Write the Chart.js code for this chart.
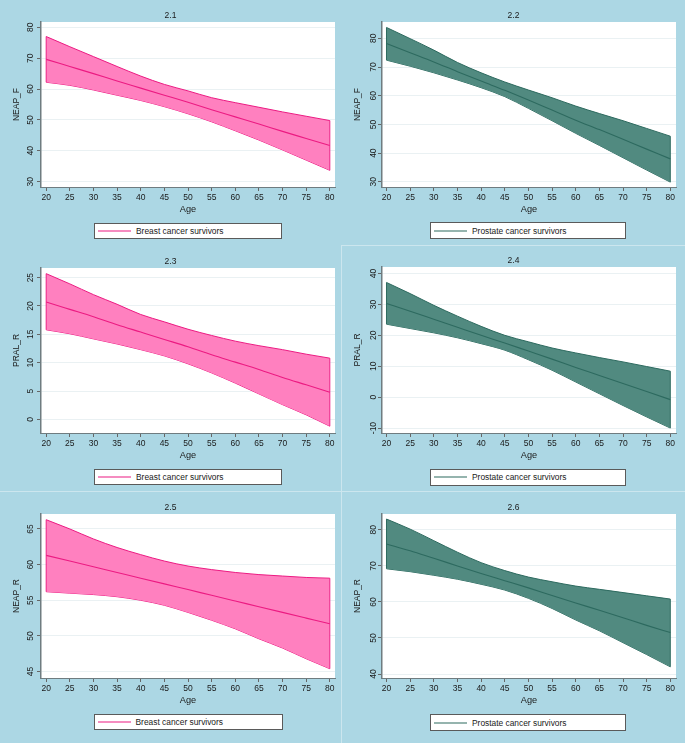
<!DOCTYPE html>
<html><head><meta charset="utf-8">
<script src="https://cdn.jsdelivr.net/npm/chart.js@4.4.1/dist/chart.umd.min.js"></script>
<style>
html,body{margin:0;padding:0;}
body{background:#acd7e4;width:685px;height:743px;position:relative;overflow:hidden;font-family:"Liberation Sans",Arial,sans-serif;}
.cv{position:absolute;}
.ptitle{position:absolute;font-size:8.5px;color:#1a1a1a;transform:translate(-50%,-50%);white-space:nowrap;line-height:1;}
.legend{position:absolute;background:#fff;border:1px solid #5a5a5a;box-sizing:border-box;}
.legend .sw{position:absolute;left:3px;width:33px;top:50%;height:0;border-top:1.3px solid;transform:translateY(-50%);}
.legend .tx{position:absolute;left:41px;top:50%;font-size:8.4px;color:#1a1a1a;white-space:nowrap;transform:translateY(-50%);line-height:1;}
.sep{position:absolute;background:#cce6ee;}
</style></head><body>
<script>
// ---------- data ----------
const ageValues = [20,25,30,35,40,45,50,55,60,65,70,75,80];
const ageTicks  = [20,25,30,35,40,45,50,55,60,65,70,75,80];

// 2.1 NEAP_F, breast cancer survivors
const breastNeapFFit  = [69.6,67.3,65.0,62.6,60.3,58.0,55.7,53.3,51.0,48.7,46.3,44.0,41.7];
const breastNeapFHigh = [77.0,73.7,70.5,67.3,64.2,61.5,59.4,57.2,55.6,54.1,52.6,51.2,49.8];
const breastNeapFLow  = [62.2,61.2,59.7,58.0,56.3,54.3,52.0,49.4,46.5,43.5,40.3,37.0,33.7];
const breastNeapFTicks = [30,40,50,60,70,80];

// 2.2 NEAP_F, prostate cancer survivors
const prostateNeapFFit  = [78.2,75.0,71.8,68.4,65.1,61.9,58.5,55.0,51.5,48.2,44.8,41.4,38.0];
const prostateNeapFHigh = [83.8,79.9,75.9,71.6,68.0,64.8,62.0,59.3,56.4,53.8,51.3,48.6,45.9];
const prostateNeapFLow  = [72.4,70.3,68.0,65.5,62.8,59.7,55.6,51.3,46.9,42.7,38.4,34.1,29.9];
const prostateNeapFTicks = [30,40,50,60,70,80];

// 2.3 PRAL_R, breast cancer survivors
const breastPralFit  = [20.7,19.4,18.1,16.7,15.4,14.1,12.8,11.4,10.1,8.8,7.4,6.1,4.8];
const breastPralHigh = [25.7,23.9,22.0,20.3,18.5,17.2,15.9,14.8,13.8,13.0,12.3,11.5,10.8];
const breastPralLow  = [15.8,15.1,14.2,13.3,12.3,11.2,9.8,8.2,6.4,4.5,2.6,0.8,-1.2];
const breastPralTicks = [0,5,10,15,20,25];

// 2.4 PRAL_R, prostate cancer survivors
const prostatePralFit  = [30.3,27.8,25.2,22.6,20.0,17.5,14.9,12.3,9.6,7.0,4.4,1.8,-0.8];
const prostatePralHigh = [37.1,33.5,29.7,26.2,22.9,20.0,17.9,15.9,14.3,12.8,11.4,9.9,8.4];
const prostatePralLow  = [23.6,22.2,20.8,19.2,17.3,15.2,12.1,8.7,4.9,1.1,-2.7,-6.4,-10.0];
const prostatePralTicks = [-10,0,10,20,30,40];

// 2.5 NEAP_R, breast cancer survivors
const breastNeapRFit  = [61.3,60.5,59.7,58.9,58.1,57.3,56.5,55.7,54.9,54.1,53.3,52.5,51.7];
const breastNeapRHigh = [66.3,65.0,63.6,62.4,61.4,60.5,59.8,59.3,58.9,58.6,58.4,58.2,58.1];
const breastNeapRLow  = [56.2,56.0,55.8,55.5,55.0,54.3,53.3,52.2,51.0,49.6,48.3,46.8,45.4];
const breastNeapRTicks = [45,50,55,60,65];

// 2.6 NEAP_R, prostate cancer survivors
const prostateNeapRFit  = [76.1,74.2,72.1,70.0,67.9,65.9,63.9,61.8,59.7,57.7,55.6,53.5,51.5];
const prostateNeapRHigh = [83.0,80.2,77.0,73.8,70.9,68.7,66.9,65.6,64.4,63.5,62.6,61.7,60.8];
const prostateNeapRLow  = [69.2,68.4,67.4,66.3,64.9,63.3,61.0,58.2,55.0,52.0,48.7,45.4,42.0];
const prostateNeapRTicks = [40,50,60,70,80];

const panelTitles = ['2.1','2.2','2.3','2.4','2.5','2.6'];
const yTitles = ['NEAP_F','NEAP_F','PRAL_R','PRAL_R','NEAP_R','NEAP_R'];
const xTitle = 'Age';
const legendLabels = ['Breast cancer survivors','Prostate cancer survivors'];

// ---------- styling / layout ----------
const FONT = '"Liberation Sans", Arial, sans-serif';
const pinkFill = '#ff80bf', pinkLine = '#ec1a82';
const tealFill = '#518a80', tealLine = '#2d6a5f';

const panels = [
  {canvas:{x:0,y:0,w:341,h:245},   plot:{l:41,r:335,t:22,b:187},  xr:[18.9,81.1], yr:[28.3,81.7], fit:breastNeapFFit, hi:breastNeapFHigh, lo:breastNeapFLow, ticks:breastNeapFTicks, pink:true, gap:10, tpad:12, leg:{x:94,y:222.5,w:188,h:16}},
  {canvas:{x:342,y:0,w:343,h:245}, plot:{l:382,r:676,t:22,b:187}, xr:[19.05,81.2], yr:[28.2,85.7], fit:prostateNeapFFit, hi:prostateNeapFHigh, lo:prostateNeapFLow, ticks:prostateNeapFTicks, pink:false, gap:8.7, tpad:10.5, leg:{x:430,y:222,w:196,h:17}},
  {canvas:{x:0,y:246,w:341,h:245}, plot:{l:41,r:335,t:268,b:433}, xr:[18.9,81.1], yr:[-2.4,26.7], fit:breastPralFit, hi:breastPralHigh, lo:breastPralLow, ticks:breastPralTicks, pink:true, gap:10, tpad:12, leg:{x:94,y:469,w:188,h:16}},
  {canvas:{x:342,y:246,w:343,h:245}, plot:{l:382,r:676,t:267,b:433}, xr:[19.05,81.2], yr:[-11.6,42.1], fit:prostatePralFit, hi:prostatePralHigh, lo:prostatePralLow, ticks:prostatePralTicks, pink:false, gap:8.7, tpad:10.5, leg:{x:430,y:469,w:196,h:16.5}},
  {canvas:{x:0,y:492,w:341,h:251}, plot:{l:41,r:335,t:514,b:678}, xr:[18.9,81.1], yr:[44.1,67.1], fit:breastNeapRFit, hi:breastNeapRHigh, lo:breastNeapRLow, ticks:breastNeapRTicks, pink:true, gap:10, tpad:12, leg:{x:93.5,y:714,w:189,h:16}},
  {canvas:{x:342,y:492,w:343,h:251}, plot:{l:382,r:676,t:514,b:678}, xr:[19.05,81.2], yr:[38.9,84.4], fit:prostateNeapRFit, hi:prostateNeapRHigh, lo:prostateNeapRLow, ticks:prostateNeapRTicks, pink:false, gap:8.7, tpad:10.5, leg:{x:430,y:714,w:196,h:17}}
];

const XH = 30, TICK = 4, TICKFONT = 8.5;

// separators
function sep(x,y,w,h){const d=document.createElement('div');d.className='sep';Object.assign(d.style,{left:x+'px',top:y+'px',width:w+'px',height:h+'px'});document.body.appendChild(d);}
sep(341,246,1,497); sep(341,245,344,1); sep(0,491,685,1);

const plotBg = {id:'plotBg', beforeDraw(chart){const {ctx,chartArea:a}=chart;ctx.save();ctx.fillStyle='#ffffff';ctx.fillRect(a.left,a.top,a.right-a.left,a.bottom-a.top);ctx.restore();}};

const measureCtx = document.createElement('canvas').getContext('2d');
function widest(labels){measureCtx.font = `normal ${TICKFONT}px ${FONT}`;return Math.max(...labels.map(s=>measureCtx.measureText(s).width));}

panels.forEach((p,i)=>{
  const cv=document.createElement('canvas');
  cv.className='cv';cv.width=p.canvas.w;cv.height=p.canvas.h;
  cv.style.left=p.canvas.x+'px';cv.style.top=p.canvas.y+'px';
  cv.style.width=p.canvas.w+'px';cv.style.height=p.canvas.h+'px';
  document.body.appendChild(cv);

  const fill = p.pink?pinkFill:tealFill, line = p.pink?pinkLine:tealLine;
  const yAxisW = p.plot.l - p.canvas.x;
  const padTop = p.plot.t - p.canvas.y;
  const padRight = p.canvas.x + p.canvas.w - p.plot.r;
  const padBottom = p.canvas.y + p.canvas.h - p.plot.b - XH;
  const yLabels = p.ticks.map(String);
  const ypad = p.gap - TICK - widest(yLabels)/2;
  const pts = arr => ageValues.map((a,k)=>({x:a,y:arr[k]}));
  const n = ageValues.length - 1;
  const leftEdge  = [{x:ageValues[0],y:p.lo[0]},{x:ageValues[0],y:p.hi[0]}];
  const rightEdge = [{x:ageValues[n],y:p.lo[n]},{x:ageValues[n],y:p.hi[n]}];
  const common = {pointRadius:0,borderColor:line,fill:false};

  new Chart(cv,{
    type:'line',
    data:{datasets:[
      {...common,data:pts(p.fit),borderWidth:1.1,cubicInterpolationMode:'monotone',order:0},
      {...common,data:leftEdge,borderWidth:1,order:1},
      {...common,data:rightEdge,borderWidth:1,order:2},
      {...common,data:pts(p.hi),borderWidth:1,backgroundColor:fill,fill:'+1',cubicInterpolationMode:'monotone',order:3},
      {...common,data:pts(p.lo),borderWidth:1,cubicInterpolationMode:'monotone',order:4}
    ]},
    plugins:[plotBg],
    options:{
      responsive:false,animation:false,devicePixelRatio:1,
      layout:{padding:{left:0,top:padTop,right:padRight,bottom:padBottom}},
      plugins:{legend:{display:false},tooltip:{enabled:false},title:{display:false}},
      scales:{
        x:{type:'linear',min:p.xr[0],max:p.xr[1],
          afterBuildTicks:s=>{s.ticks=ageTicks.map(v=>({value:v}));},
          afterFit:s=>{s.height=XH;},
          grid:{drawOnChartArea:false,drawTicks:true,tickLength:TICK,tickColor:'#666',tickWidth:1},
          border:{display:true,color:'#6f7c80',width:1},
          ticks:{autoSkip:false,maxRotation:0,minRotation:0,padding:1.5,color:'#1a1a1a',font:{family:FONT,size:TICKFONT},callback:v=>String(v)},
          title:{display:true,text:xTitle,color:'#1a1a1a',font:{family:FONT,size:9.2},padding:{top:0,bottom:2}}
        },
        y:{type:'linear',min:p.yr[0],max:p.yr[1],
          afterBuildTicks:s=>{s.ticks=p.ticks.map(v=>({value:v}));},
          afterFit:s=>{s.width=yAxisW;},
          grid:{drawOnChartArea:true,color:'#eaf1f3',lineWidth:1,drawTicks:true,tickLength:TICK,tickColor:'#666',tickWidth:1},
          border:{display:true,color:'#6f7c80',width:1.5},
          ticks:{autoSkip:false,minRotation:90,maxRotation:90,crossAlign:'center',padding:ypad,color:'#1a1a1a',font:{family:FONT,size:TICKFONT},callback:v=>String(v)},
          title:{display:true,text:yTitles[i],color:'#1a1a1a',font:{family:FONT,size:8.5},padding:{top:p.tpad,bottom:0}}
        }
      }
    }
  });

  // panel title, centered on panel
  const t=document.createElement('div');t.className='ptitle';t.textContent=panelTitles[i];
  t.style.left=(p.canvas.x+p.canvas.w/2)+'px';t.style.top=(p.plot.t-7)+'px';
  document.body.appendChild(t);

  // legend box
  const lg=document.createElement('div');lg.className='legend';
  Object.assign(lg.style,{left:p.leg.x+'px',top:p.leg.y+'px',width:p.leg.w+'px',height:p.leg.h+'px'});
  const sw=document.createElement('div');sw.className='sw';sw.style.borderTopColor=line;
  const tx=document.createElement('div');tx.className='tx';tx.textContent=legendLabels[p.pink?0:1];
  lg.appendChild(sw);lg.appendChild(tx);document.body.appendChild(lg);
});
</script>
</body></html>
